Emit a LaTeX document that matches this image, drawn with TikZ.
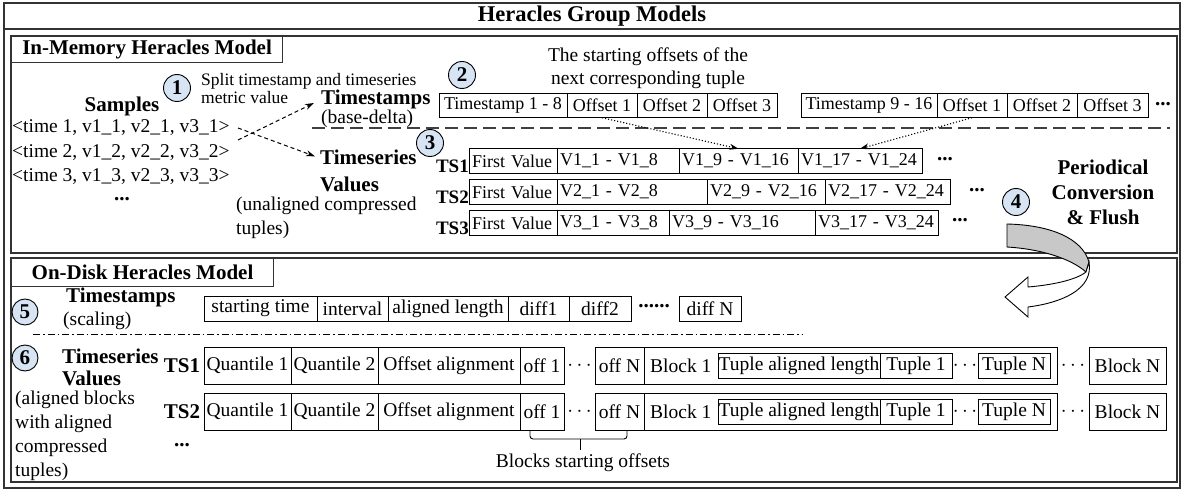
\documentclass[tikz,border=0pt]{standalone}
\usepackage{fontspec}
\setmainfont{Liberation Serif}
\usetikzlibrary{positioning,arrows.meta,calc}
\definecolor{numblue}{RGB}{214,228,243}
\definecolor{arrgray}{RGB}{200,200,200}
\newcommand\ttlfnt{\fontsize{22.5}{26}\selectfont\bfseries}
\newcommand\lblfnt{\fontsize{21}{24}\selectfont}
\newcommand\txtfnt{\fontsize{19.5}{23}\selectfont}
\newcommand\cellfnt{\fontsize{18}{20}\selectfont}
\newcommand\dcellfnt{\fontsize{19.5}{22}\selectfont}
\newcommand\smlfnt{\fontsize{17.5}{18}\selectfont}

\begin{document}
\begin{tikzpicture}[x=1pt,y=-1pt,
    frame/.style={draw=black!80, line width=1.3pt},
    header/.style={draw=black!80, line width=1.1pt, anchor=north west, inner sep=0pt, font=\lblfnt\bfseries},
    cell/.style={draw, line width=0.8pt, inner xsep=2pt, inner ysep=0pt, outer sep=0pt, minimum height=24.5, font=\cellfnt},
    vcell/.style={cell, text width=#1, align=left, inner xsep=3pt},
    dcell/.style={cell, minimum height=37, inner xsep=1pt, font=\dcellfnt},
    num/.style={circle, draw, line width=0.9pt, fill=numblue, minimum size=27, inner sep=0pt, font=\lblfnt\bfseries},
    txt/.style={inner sep=0pt, font=\txtfnt},
    lbl/.style={inner sep=0pt, font=\lblfnt\bfseries},
    flow/.style={dash pattern=on 4pt off 3pt, line width=1pt, -{Stealth[length=9pt,width=6pt]}},
    link/.style={dotted, line width=1.1pt, -{Stealth[length=9pt,width=6pt]}}]
  \useasboundingbox (0,0) rectangle (1181,489);

  % frames
  \draw[frame] (4,3) rectangle (1180,488);
  \draw[frame] (4,29) -- (1180,29);
  \draw[frame] (11,36) rectangle (1177,253);
  \draw[frame] (11,258) rectangle (1177,482);
  \node[font=\ttlfnt] (ttl) at (592,16) {Heracles Group Models};
  \node[header, minimum width=271, minimum height=26] (mem) at (11,36) {In-Memory Heracles Model};
  \node[header, minimum width=262, minimum height=28] (dsk) at (11,258) {On-Disk Heracles Model};

  % in-memory: samples
  \node[num] (n1) at (177,88) {1};
  \node[inner sep=0pt, font=\smlfnt, align=left, anchor=west] (spl) at (201,88.5) {Split timestamp and timeseries\\metric value};
  \node[lbl] (smp) at (122,106) {Samples};
  \node[txt, anchor=west] (r1) at (12,128) {<time 1, v1\_1, v2\_1, v3\_1>};
  \node[txt, anchor=west] (r2) at (12,153) {<time 2, v1\_2, v2\_2, v3\_2>};
  \node[txt, anchor=west] (r3) at (12,177) {<time 3, v1\_3, v2\_3, v3\_3>};
  \node[lbl] (rd) at (122,199) {...};

  \node[txt, align=left, anchor=west, font=\fontsize{19.5}{18.5}\selectfont] (tsl) at (321,109) {{\lblfnt\bfseries Timestamps}\\(base-delta)};
  \node[lbl, align=left, anchor=west, font=\fontsize{21}{27}\selectfont\bfseries] (tvl) at (320,170.5) {Timeseries\\Values};
  \node[txt, align=left, anchor=west, font=\fontsize{19.5}{24}\selectfont] (una) at (236,218) {(unaligned compressed\\tuples)};
  \coordinate (s1) at (238,140);
  \coordinate (s2) at (238,128);
  \draw[flow] (s1) -- ([xshift=-7pt,yshift=6pt]tsl.west);
  \draw[flow] (s2) -- ([xshift=-5pt,yshift=-7pt]tvl.north west);
  \draw[draw=black!75, line width=1.3pt, dash pattern=on 13pt off 6pt] (312,128) -- (1170,128);

  % in-memory: timestamps
  \node[num] (n2) at (462,75) {2};
  \node[txt, align=center] (sto) at (648,68.5) {The starting offsets of the\\next corresponding tuple};
  \node[cell, minimum width=128, anchor=west] (ta) at (439,105.5) {Timestamp 1 - 8};
  \node[cell, minimum width=70, right=0pt of ta] (tb) {Offset 1};
  \node[cell, minimum width=70, right=0pt of tb] (tc) {Offset 2};
  \node[cell, minimum width=70, right=0pt of tc] (td) {Offset 3};
  \node[cell, minimum width=136, anchor=west] (ua) at (801,105.5) {Timestamp 9 - 16};
  \node[cell, minimum width=70, right=0pt of ua] (ub) {Offset 1};
  \node[cell, minimum width=70, right=0pt of ub] (uc) {Offset 2};
  \node[cell, minimum width=71, right=0pt of uc] (ud) {Offset 3};
  \node[lbl] (ue) at (1163,104) {...};

  % in-memory: values
  \node[num] (n3) at (430,143) {3};
  \node[vcell=82pt, anchor=west] (a1) at (469,161) {First Value};
  \node[vcell=116pt, right=0pt of a1] (a2) {V1\_1 - V1\_8};
  \node[vcell=113pt, right=0pt of a2] (a3) {V1\_9 - V1\_16};
  \node[vcell=118pt, right=0pt of a3] (a4) {V1\_17 - V1\_24};
  \node[vcell=82pt, anchor=west] (b1) at (469,192) {First Value};
  \node[vcell=144pt, right=0pt of b1] (b2) {V2\_1 - V2\_8};
  \node[vcell=112pt, right=0pt of b2] (b3) {V2\_9 - V2\_16};
  \node[vcell=119pt, right=0pt of b3] (b4) {V2\_17 - V2\_24};
  \node[vcell=82pt, anchor=west] (c1) at (469,223) {First Value};
  \node[vcell=106pt, right=0pt of c1] (c2) {V3\_1 - V3\_8};
  \node[vcell=140pt, right=0pt of c2] (c3) {V3\_9 - V3\_16};
  \node[vcell=117pt, right=0pt of c3] (c4) {V3\_17 - V3\_24};
  \node[lbl, font=\fontsize{19}{20}\selectfont\bfseries, anchor=base east] (l1) at ([yshift=1pt]a1.south west) {TS1};
  \node[lbl, font=\fontsize{19}{20}\selectfont\bfseries, anchor=base east] (l2) at ([yshift=1pt]b1.south west) {TS2};
  \node[lbl, font=\fontsize{19}{20}\selectfont\bfseries, anchor=base east] (l3) at ([yshift=1pt]c1.south west) {TS3};
  \node[lbl] (ae) at (945,159) {...};
  \node[lbl] (be) at (977,190) {...};
  \node[lbl] (ce) at (960,220) {...};
  \draw[link] (tb.south) -- (a3.north);
  \draw[link] (ub.south) -- (a4.north);

  % conversion & flush
  \node[num] (n4) at (1016,202) {4};
  \node[lbl, align=center, font=\fontsize{21}{25}\selectfont\bfseries] (pcf) at (1103,192) {Periodical\\Conversion\\\& Flush};
  \draw[line width=0.9pt, fill=arrgray] (1007,224) .. controls (1050,225) and (1082,238) .. (1089,262)
    -- (1086,272) .. controls (1070,258) and (1040,249) .. (1007,247) -- cycle;
  \draw[line width=0.9pt, fill=white] (1089,262) .. controls (1094,290) and (1060,303) .. (1028,307)
    -- (1028,317) -- (1005,297) -- (1028,277) -- (1028,287) .. controls (1052,285) and (1076,280) .. (1086,272) -- cycle;

  % on-disk: timestamps
  \node[num, minimum size=26] (n5) at (25,312) {5};
  \node[txt, align=left, anchor=west, font=\fontsize{19.5}{23}\selectfont] (dtl) at (63,308.5) {\hspace{3pt}{\lblfnt\bfseries Timestamps}\\(scaling)};
  \node[dcell, minimum height=25, minimum width=113, anchor=west] (d1) at (204,308.5) {starting time};
  \node[dcell, minimum height=25, minimum width=71, right=0pt of d1] (d2) {interval};
  \node[dcell, minimum height=25, minimum width=120, right=0pt of d2] (d3) {aligned length};
  \node[dcell, minimum height=25, minimum width=61, right=0pt of d3] (d4) {diff1};
  \node[dcell, minimum height=25, minimum width=62, right=0pt of d4] (d5) {diff2};
  \node[lbl] (d6) at (654,306) {......};
  \node[dcell, minimum height=25, minimum width=62, anchor=west] (d7) at (679,308.5) {diff N};
  \draw[line width=0.9pt, dash pattern=on 7pt off 3pt on 1.5pt off 3pt] (33,334) -- (802,334);

  % on-disk: values
  \node[num, minimum size=26] (n6) at (25,358) {6};
  \node[lbl, align=left, anchor=west, font=\fontsize{21}{22}\selectfont\bfseries] (dvl) at (62,367) {Timeseries\\Values};
  \node[txt, align=left, anchor=west, font=\fontsize{19.5}{24}\selectfont] (abl) at (15,435.5) {(aligned blocks\\with aligned\\compressed\\tuples)};
  \foreach \i/\y in {1/365.5, 2/411.5} {
    \node[lbl] (dts\i) at (182,\y) {TS\i};
    \node[dcell, minimum width=87, anchor=west] (qa\i) at (204,\y) {Quantile 1};
    \node[dcell, minimum width=87, right=0pt of qa\i] (qb\i) {Quantile 2};
    \node[dcell, minimum width=142, right=0pt of qb\i] (oa\i) {Offset alignment};
    \node[dcell, minimum width=44, right=0pt of oa\i] (of\i) {off 1};
    \node[dcell, minimum width=49, anchor=west] (on\i) at (595,\y) {off N};
    \node[txt] (od\i) at ($(of\i.east)!0.5!(on\i.west)$) {$\cdots$};
    \node[dcell, minimum width=413, right=0pt of on\i] (bk\i) {};
    \node[txt, font=\dcellfnt, anchor=west] (bt\i) at ([xshift=6pt]bk\i.west) {Block 1};
    \node[dcell, minimum height=25, minimum width=162, inner xsep=0pt, anchor=west] (tl\i) at ([xshift=74pt]bk\i.west) {Tuple aligned length};
    \node[dcell, minimum height=25, minimum width=72, right=0pt of tl\i] (tp\i) {Tuple 1};
    \node[dcell, minimum height=25, minimum width=72, anchor=west] (tn\i) at ([xshift=26pt]tp\i.east) {Tuple N};
    \node[txt] (td\i) at ($(tp\i.east)!0.5!(tn\i.west)$) {$\cdots$};
    \node[dcell, minimum width=77, anchor=west] (bn\i) at (1089,\y) {Block N};
    \node[txt] (bd\i) at ($(bk\i.east)!0.5!(bn\i.west)$) {$\cdots$};
  }
  \node[lbl] (dte) at (182,445) {...};
  \draw[line width=0.9pt, rounded corners=3pt] ([xshift=10pt]of2.south west) -- ++(0,9) -| ([xshift=-17pt]on2.south east);
  \coordinate (bm) at ($(of2.south)!0.5!(on2.south)+(0,9)$);
  \draw[line width=0.9pt] (bm) -- ++(0,11);
  \node[txt] (bso) at (583,463) {Blocks starting offsets};
\end{tikzpicture}
\end{document}
